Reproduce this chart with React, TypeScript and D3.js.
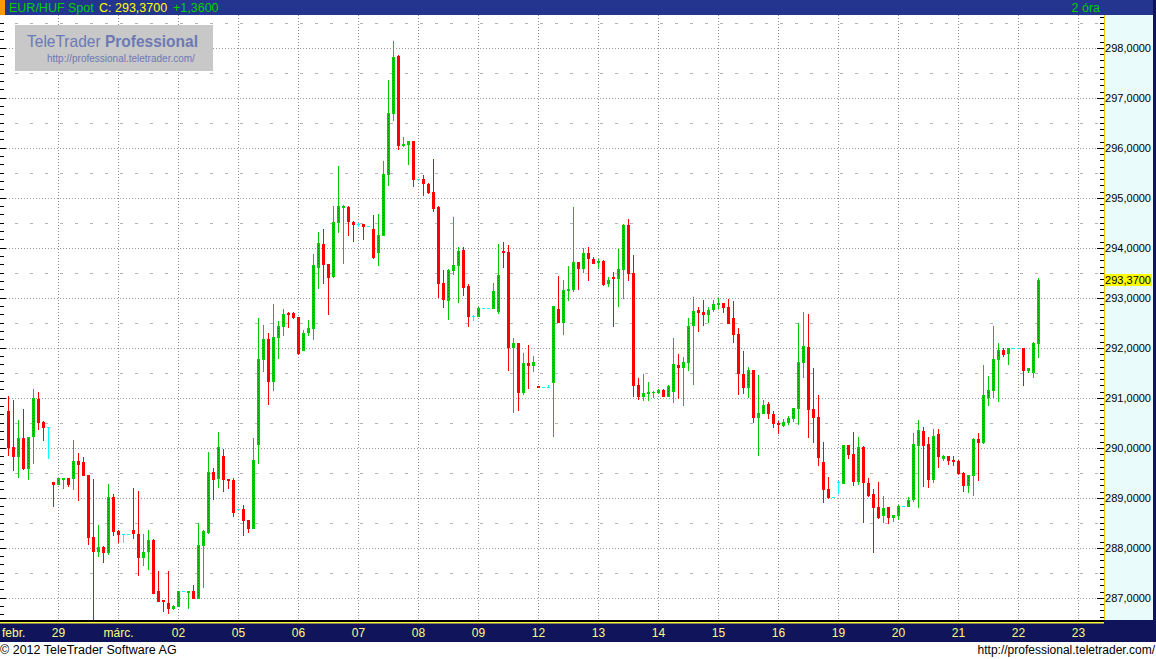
import * as d3 from "d3";

// --- EUR/HUF Spot, свечи по 2 часа ---

const opens = [
  290.75, 290.03, 289.85, 290.21, 289.61, 290.25, 290.99, 290.53, 290.42, 289.33,
  289.29, 289.39, 289.41, 289.41, 289.75, 289.73, 289.47, 288.23, 287.95, 288.03, 287.93, 289.03,
  288.35, 288.28, 288.28, 288.37, 288.29, 287.83, 287.95, 288.17, 287.15, 286.97, 286.91, 286.81,
  286.85, 287.14, 287.13, 287.15, 287.01, 288.07, 288.33, 289.53, 289.41, 289.85, 289.39, 289.37,
  288.78, 288.79, 288.57, 288.41, 290.09, 291.79, 292.19, 291.35, 292.23, 292.45, 292.71, 292.71,
  292.63, 291.97, 292.33, 292.41, 293.63, 294.09, 293.69, 293.45, 294.53, 294.83, 294.83, 294.53,
  294.49, 294.49, 294.44, 294.39, 293.93, 294.27, 295.49, 296.71, 297.85, 296.07, 296.09, 296.15,
  295.38, 295.39, 295.29, 295.13, 294.83, 293.31, 292.97, 293.57, 293.67, 293.97, 293.25, 292.65,
  292.65, 292.8, 292.8, 292.81, 292.75, 293.95, 293.93, 292.03, 292.11, 291.13, 291.71, 291.67,
  291.25, 291.23, 291.23, 291.33, 292.79, 292.53, 293.17, 293.19, 293.73, 293.61, 293.91, 293.79,
  293.73, 293.75, 293.31, 293.43, 293.41, 293.59, 294.47, 293.51, 291.27, 291.05, 291.11, 291.12,
  291.13, 291.17, 291.05, 291.15, 291.67, 291.63, 291.73, 292.47, 292.77, 292.73, 292.69, 292.79,
  292.89, 292.91, 292.83, 292.61, 292.29, 291.49, 291.23, 291.57, 290.63, 290.71, 290.89, 290.69,
  290.51, 290.47, 290.53, 290.61, 290.81, 291.73, 292.03, 290.79, 290.63, 289.73, 289.19, 289.02,
  289.32, 289.31, 290.07, 289.89, 289.35, 290.03, 289.31, 289.09, 288.83, 288.67, 288.83, 288.63,
  288.67, 288.84, 288.85, 288.99, 290.07, 290.35, 290.09, 289.39, 290.29, 289.81, 289.85, 289.77,
  289.75, 289.51, 289.27, 289.47, 290.19, 290.13, 291.03, 291.17, 291.79, 291.97, 291.91, 292.0,
  292.0, 292.01, 291.57, 291.53, 292.11,
];

const highs = [
  291.05, 290.97, 290.57, 290.79, 290.23, 291.19, 291.13, 290.55, 290.42, 289.33,
  289.41, 289.41, 289.41, 290.17, 289.91, 289.83, 289.47, 289.39, 288.47, 288.05, 289.29, 289.09,
  288.37, 288.28, 288.28, 289.21, 289.15, 288.29, 288.37, 288.19, 287.55, 286.97, 287.55, 286.87,
  287.15, 287.14, 287.15, 287.27, 288.51, 288.37, 289.93, 289.61, 290.33, 289.99, 289.39, 289.41,
  288.78, 288.87, 288.57, 290.21, 292.61, 292.47, 292.31, 292.89, 292.55, 292.79, 292.73, 292.73,
  292.63, 292.37, 292.57, 293.89, 294.33, 294.39, 293.69, 294.85, 295.65, 294.87, 294.85, 294.55,
  294.51, 294.49, 294.44, 294.67, 294.69, 295.75, 297.37, 298.15, 297.87, 296.23, 296.15, 296.15,
  295.38, 295.47, 295.31, 295.79, 294.85, 293.57, 293.59, 294.63, 294.03, 294.03, 293.29, 292.67,
  292.83, 292.8, 292.8, 293.31, 294.09, 294.13, 294.07, 292.21, 292.11, 291.91, 292.07, 291.85,
  291.25, 291.23, 291.27, 292.85, 293.45, 293.37, 293.65, 294.83, 293.73, 294.01, 294.03, 293.83,
  293.79, 293.77, 293.43, 293.53, 293.99, 294.49, 294.59, 293.87, 291.41, 291.49, 291.33, 291.15,
  291.19, 291.19, 291.27, 292.21, 291.89, 291.83, 292.61, 293.03, 292.83, 292.97, 292.83, 292.97,
  293.01, 292.91, 292.99, 292.95, 292.41, 291.95, 291.63, 291.57, 291.47, 290.97, 290.93, 290.75,
  290.55, 290.59, 290.65, 290.81, 292.51, 292.73, 292.69, 291.61, 291.07, 290.13, 289.43, 289.02,
  289.34, 290.07, 290.07, 290.33, 290.23, 290.05, 289.41, 289.19, 289.33, 289.05, 288.83, 288.67,
  288.87, 288.84, 289.03, 290.31, 290.57, 290.43, 290.23, 290.39, 290.39, 289.87, 289.85, 289.85,
  289.77, 289.53, 289.47, 290.21, 290.31, 291.67, 291.45, 292.45, 292.11, 292.01, 292.01, 292.0,
  292.0, 292.01, 291.61, 292.13, 293.41,
];

const lows = [
  289.87, 289.57, 289.43, 289.59, 289.39, 289.71, 290.39, 290.17, 289.81, 288.85,
  289.29, 289.21, 289.25, 289.19, 288.97, 289.47, 288.09, 286.59, 287.85, 287.73, 287.89, 288.27,
  288.13, 288.13, 288.28, 288.21, 287.47, 287.67, 287.59, 287.11, 286.95, 286.75, 286.71, 286.79,
  286.85, 287.14, 286.81, 287.01, 287.01, 287.23, 288.31, 288.99, 289.23, 289.15, 289.21, 288.65,
  288.78, 288.27, 288.33, 288.41, 289.71, 291.55, 290.89, 291.17, 291.81, 292.27, 292.43, 292.61,
  291.89, 291.97, 292.27, 292.19, 293.21, 293.31, 292.69, 293.43, 294.33, 293.71, 294.27, 294.15,
  294.45, 294.19, 294.44, 293.81, 293.67, 294.27, 295.27, 296.57, 295.99, 296.05, 295.69, 295.25,
  295.38, 295.07, 295.11, 294.75, 293.03, 292.83, 292.59, 293.49, 292.93, 293.07, 292.45, 292.57,
  292.65, 292.8, 292.8, 292.81, 292.71, 293.63, 291.57, 290.73, 290.77, 291.09, 291.21, 291.55,
  291.23, 291.23, 291.23, 290.25, 292.53, 292.29, 292.97, 293.15, 293.19, 293.53, 293.37, 293.71,
  293.61, 293.27, 293.25, 292.45, 292.85, 293.01, 293.37, 291.05, 290.99, 290.97, 290.97, 291.03,
  291.11, 291.05, 291.05, 290.93, 291.01, 290.87, 291.57, 291.29, 292.35, 292.47, 292.53, 292.75,
  292.81, 292.73, 292.51, 292.13, 291.09, 291.11, 291.03, 290.53, 289.87, 290.71, 290.61, 290.43,
  290.31, 290.45, 290.49, 290.55, 290.49, 291.43, 290.23, 290.13, 289.67, 288.93, 289.01, 289.02,
  289.1, 289.31, 289.81, 289.27, 289.29, 288.53, 289.05, 287.93, 288.61, 288.53, 288.51, 288.55,
  288.59, 288.84, 288.85, 288.95, 288.83, 289.25, 289.23, 289.33, 289.63, 289.77, 289.69, 289.67,
  289.49, 289.15, 289.13, 289.07, 289.37, 290.11, 290.87, 291.03, 290.95, 291.85, 291.69, 292.0,
  292.0, 291.27, 291.53, 291.43, 291.83,
];

const closes = [
  290.03, 289.85, 290.21, 289.61, 290.23, 291.0, 290.53, 290.43, 290.42, 289.29,
  289.41, 289.41, 289.29, 289.75, 289.69, 289.47, 288.23, 287.95, 288.03, 287.93, 289.03, 288.35,
  288.29, 288.28, 288.28, 288.31, 287.83, 287.93, 288.17, 287.11, 286.95, 286.95, 286.81, 286.85,
  287.15, 287.14, 287.15, 287.01, 288.07, 288.35, 289.53, 289.39, 290.03, 289.39, 289.37, 288.73,
  288.78, 288.57, 288.41, 289.77, 291.79, 292.19, 291.35, 292.23, 292.45, 292.69, 292.69, 292.63,
  291.91, 292.31, 292.41, 293.67, 294.11, 293.69, 293.43, 294.53, 294.85, 294.85, 294.55, 294.49,
  294.49, 294.45, 294.44, 293.83, 294.27, 295.49, 296.71, 297.83, 296.07, 296.09, 296.15, 295.39,
  295.38, 295.31, 295.13, 294.81, 293.31, 292.99, 293.57, 293.67, 293.95, 293.23, 292.65, 292.65,
  292.81, 292.8, 292.8, 293.15, 293.47, 293.93, 292.03, 292.11, 291.13, 291.71, 291.67, 291.73,
  291.23, 291.23, 291.23, 292.85, 292.53, 293.17, 293.19, 293.73, 293.61, 293.91, 293.81, 293.71,
  293.75, 293.29, 293.37, 293.41, 293.59, 294.47, 293.51, 291.27, 291.05, 291.11, 291.13, 291.13,
  291.17, 291.05, 291.25, 291.69, 291.63, 291.73, 292.45, 292.75, 292.73, 292.69, 292.77, 292.89,
  292.91, 292.83, 292.51, 292.29, 291.51, 291.23, 291.57, 290.63, 290.71, 290.87, 290.71, 290.51,
  290.49, 290.53, 290.61, 290.81, 291.73, 292.05, 290.79, 290.63, 289.83, 289.19, 289.03, 289.02,
  289.32, 290.07, 289.89, 289.35, 290.03, 289.33, 289.07, 288.83, 288.63, 288.81, 288.63, 288.67,
  288.85, 288.84, 288.97, 290.09, 290.37, 290.07, 289.39, 290.25, 289.85, 289.85, 289.77, 289.75,
  289.51, 289.27, 289.47, 290.19, 290.13, 291.07, 291.17, 291.79, 291.97, 291.89, 292.01, 292.0,
  292.0, 291.57, 291.61, 292.11, 293.37,
];

// подписи дней по оси X (первая — "febr." прижата к левому краю)
const firstLabel = "febr.";
const dayLabels = [
  "29", "márc.", "02", "05", "06", "07", "08", "09", "12",
  "13", "14", "15", "16", "19", "20", "21", "22", "23",
];
const priceTicks = [287, 288, 289, 290, 291, 292, 293, 294, 295, 296, 297, 298];

const SYMBOL = "EUR/HUF Spot";
const PERIOD = "2 óra";
const LAST = 293.37;
const CHANGE = 1.36;

// --- Оформление ---

const SIZE = { width: 1156, height: 659 };
const FONT = "'Liberation Sans', Arial, sans-serif";

const HEADER = { height: 15, bg: "#243590", green: "#00d000", yellow: "#ffff00" };
const PLOT = { left: 0, top: 15, right: 1104, bottom: 620 };
const RIGHT = { x: 1104, edge: 1153, bg: "#eafbfb", border: "#f0c800" };
const BOTTOM = { top: 620, bottom: 642, bg: "#10145a", text: "#ffff80" };
const CANDLE = {
  step: 5,
  firstX: 8,
  body: 3,
  up: "#00cc00",
  down: "#ff0000",
  flat: "#00ffff",
  upDots: "#007a00",
};
const FIRST_DAY = 10; // индекс первой свечи 29-го
const PER_DAY = 12; // 2-часовые свечи

const locale = d3.formatLocale({
  decimal: ",",
  thousands: " ",
  grouping: [3],
  currency: ["", ""],
});
const fmtPrice = locale.format(".4f");
const fmtChange = locale.format("+.4f");

export default function App() {
  const x = d3
    .scaleLinear()
    .domain([0, 1])
    .range([CANDLE.firstX, CANDLE.firstX + CANDLE.step]);
  const y = d3.scaleLinear().domain([287, 298]).range([598.3, 48.3]);
  const py = (p: number) => Math.round(y(p));

  const wholeLines = d3.range(286, 300).filter((p) => y(p) > PLOT.top && y(p) < PLOT.bottom);
  const halfLines = d3.range(286.5, 300, 1).filter((p) => y(p) > PLOT.top && y(p) < PLOT.bottom);
  const leftTicks = d3
    .range(286 * 6, 300 * 6)
    .map((v) => v / 6)
    .filter((p) => y(p) > PLOT.top + 2 && y(p) < PLOT.bottom - 1);
  const rightTicks = d3
    .range(286 * 8, 300 * 8)
    .map((v) => v / 8)
    .filter((p) => y(p) > PLOT.top + 2 && y(p) < PLOT.bottom - 1);
  const dayIdx = dayLabels.map((_, k) => FIRST_DAY + k * PER_DAY);

  const candles = closes.map((c, i) => {
    const o = opens[i];
    const color = c > o ? CANDLE.up : c < o ? CANDLE.down : CANDLE.flat;
    const cx = Math.round(x(i));
    const top = py(Math.max(o, c));
    const bot = py(Math.min(o, c));
    const hTop = py(highs[i]);
    const lBot = py(lows[i]);
    return (
      <g key={i}>
        <rect x={cx} y={hTop} width={1} height={Math.max(1, lBot - hTop + 1)} fill={color} />
        <rect
          x={cx - 1}
          y={top}
          width={CANDLE.body}
          height={Math.max(1, bot - top + 1)}
          fill={color}
        />
        {c > o && bot - top > 5 && (
          <line
            x1={cx + 0.5}
            x2={cx + 0.5}
            y1={top + 2}
            y2={bot - 1}
            stroke={CANDLE.upDots}
            strokeDasharray="1,2"
          />
        )}
      </g>
    );
  });

  const lastY = y(LAST);

  return (
    <svg
      width={SIZE.width}
      height={SIZE.height}
      style={{ position: "absolute", left: 0, top: 0, display: "block" }}
      fontFamily={FONT}
    >
      <rect width={SIZE.width} height={SIZE.height} fill="#ffffff" />

      {/* сетка */}
      {halfLines.map((p) => (
        <line
          key={"h" + p}
          x1={PLOT.left}
          x2={PLOT.right}
          y1={Math.floor(y(p)) + 0.5}
          y2={Math.floor(y(p)) + 0.5}
          stroke="#b4b4b4"
          strokeDasharray="3,12"
          strokeDashoffset={-15}
        />
      ))}
      {wholeLines.map((p) => (
        <line
          key={"w" + p}
          x1={PLOT.left}
          x2={PLOT.right}
          y1={Math.floor(y(p)) + 0.5}
          y2={Math.floor(y(p)) + 0.5}
          stroke="#9a9a9a"
          strokeDasharray="1,2"
        />
      ))}
      {dayIdx.map((d) => (
        <line
          key={"d" + d}
          x1={Math.round(x(d)) + 0.5}
          x2={Math.round(x(d)) + 0.5}
          y1={PLOT.top}
          y2={PLOT.bottom}
          stroke="#8c8c8c"
          strokeDasharray="1,2"
        />
      ))}

      {/* логотип */}
      <rect x={15} y={25} width={198} height={46} fill="#c8c8c8" />
      <text
        x={27}
        y={47}
        fontSize={17}
        fill="#6c79b4"
        textLength={171}
        lengthAdjust="spacingAndGlyphs"
      >
        TeleTrader <tspan fontWeight="bold">Professional</tspan>
      </text>
      <text x={47} y={62} fontSize={10} fill="#6c79b4">
        http://professional.teletrader.com/
      </text>

      {/* свечи */}
      {candles}

      {/* левые засечки */}
      {leftTicks.map((p, k) => (
        <line
          key={"lt" + k}
          x1={0}
          x2={Number.isInteger(p) ? 6 : 4}
          y1={Math.floor(y(p)) + 0.5}
          y2={Math.floor(y(p)) + 0.5}
          stroke="#000"
        />
      ))}

      {/* правая шкала */}
      <rect
        x={RIGHT.x}
        y={PLOT.top}
        width={RIGHT.edge - RIGHT.x}
        height={PLOT.bottom - PLOT.top}
        fill={RIGHT.bg}
      />
      <rect x={RIGHT.x} y={PLOT.top} width={1} height={PLOT.bottom - PLOT.top} fill={RIGHT.border} />
      {rightTicks.map((p, k) => (
        <line
          key={"rt" + k}
          x1={Number.isInteger(p) ? RIGHT.x - 7 : RIGHT.x - 4}
          x2={RIGHT.x}
          y1={Math.floor(y(p)) + 0.5}
          y2={Math.floor(y(p)) + 0.5}
          stroke="#000"
        />
      ))}
      {priceTicks.map((p) => (
        <text
          key={"pl" + p}
          x={1151}
          y={y(p)}
          dy="0.36em"
          fontSize={11}
          textAnchor="end"
          fill="#000"
        >
          {fmtPrice(p)}
        </text>
      ))}
      <rect x={RIGHT.x + 1} y={Math.round(lastY) - 6} width={47} height={12} fill="#ffff00" />
      <text x={1151} y={lastY} dy="0.36em" fontSize={11} textAnchor="end" fill="#000">
        {fmtPrice(LAST)}
      </text>

      {/* ось времени */}
      <rect
        x={0}
        y={BOTTOM.top}
        width={SIZE.width}
        height={BOTTOM.bottom - BOTTOM.top}
        fill={BOTTOM.bg}
      />
      <rect x={0} y={BOTTOM.top} width={PLOT.right} height={2} fill="#000" />
      <rect x={0} y={BOTTOM.top + 2} width={PLOT.right} height={1.5} fill="#ffff40" />
      <text x={2} y={637} fontSize={12} fill={BOTTOM.text}>
        {firstLabel}
      </text>
      {dayLabels.map((lab, k) => (
        <text
          key={"dl" + k}
          x={Math.round(x(dayIdx[k])) + 0.5}
          y={637}
          fontSize={12}
          textAnchor="middle"
          fill={BOTTOM.text}
        >
          {lab}
        </text>
      ))}

      {/* правая рамка */}
      <rect
        x={RIGHT.edge}
        y={0}
        width={SIZE.width - RIGHT.edge}
        height={BOTTOM.bottom}
        fill={BOTTOM.bg}
      />

      {/* заголовок */}
      <rect x={0} y={0} width={RIGHT.edge} height={HEADER.height} fill={HEADER.bg} />
      <rect x={0} y={0} width={5} height={HEADER.height} fill="#ff9900" />
      <text y={12} fontSize={12.5}>
        <tspan x={9} fill={HEADER.green}>
          {SYMBOL}
        </tspan>
        <tspan x={99} fill={HEADER.yellow}>
          {"C: " + fmtPrice(LAST)}
        </tspan>
        <tspan x={173} fill={HEADER.green}>
          {fmtChange(CHANGE)}
        </tspan>
      </text>
      <text x={1100} y={12} fontSize={12.5} textAnchor="end" fill={HEADER.green}>
        {PERIOD}
      </text>

      {/* подвал */}
      <text x={0} y={654} fontSize={12.5} fill="#000">
        © 2012 TeleTrader Software AG
      </text>
      <text x={1155} y={654} fontSize={12} textAnchor="end" fill="#000">
        http://professional.teletrader.com/
      </text>
    </svg>
  );
}
